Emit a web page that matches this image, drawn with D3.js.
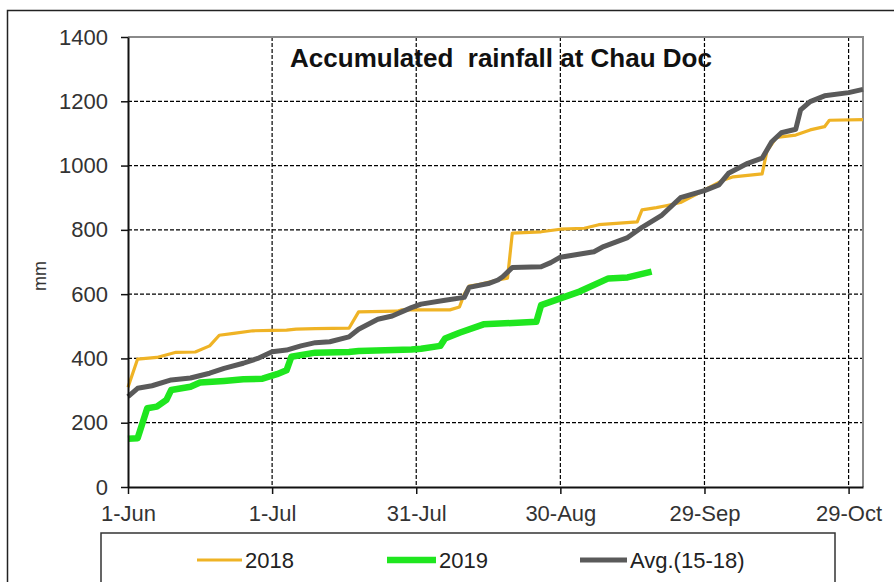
<!DOCTYPE html>
<html>
<head>
<meta charset="utf-8">
<script src="https://cdn.jsdelivr.net/npm/d3@7"></script>
<style>
  body { margin: 0; background: #fff; }
  svg { display: block; font-family: "Liberation Sans", Arial, sans-serif; }
</style>
</head>
<body>
<svg width="894" height="582"></svg>
<script>
// x tick days counted from 1 June, labels as printed
var tickDays = [0, 30, 60, 90, 120, 150];
var tickLabels = ["1-Jun", "1-Jul", "31-Jul", "30-Aug", "29-Sep", "29-Oct"];
var yTicks = [0, 200, 400, 600, 800, 1000, 1200, 1400];
var seriesNames = ["2018", "2019", "Avg.(15-18)"];

// accumulated rainfall (mm)
var days2018 = [0, 2, 6, 10, 14, 17, 19, 22, 26, 30, 33, 35, 39, 46, 48, 56, 57, 67, 69, 70, 71, 73, 77, 79, 80, 86, 90, 95, 98, 106, 107, 110, 112, 115, 120, 124, 126, 132, 133, 135, 139, 142, 145, 146, 153];
var rain2018 = [310, 398, 403, 419, 420, 439, 472, 478, 486, 487, 488, 491, 493, 494, 545, 547, 551, 551, 560, 600, 625, 630, 644, 650, 790, 794, 802, 805, 816, 825, 862, 869, 875, 885, 924, 955, 965, 974, 1045, 1088, 1095, 1111, 1121, 1141, 1143];

var days2019 = [0, 2, 4, 6, 8, 9, 13, 15, 20, 24, 28, 31, 33, 34, 39, 46, 48, 59, 61, 65, 66, 69, 74, 85, 86, 90, 94, 100, 104, 109];
var rain2019 = [150, 152, 245, 250, 271, 302, 312, 325, 330, 335, 337, 351, 363, 405, 418, 420, 423, 428, 430, 439, 462, 480, 506, 514, 566, 587, 608, 649, 652, 670];

var daysAvg = [0, 2, 5, 9, 13, 17, 20, 24, 27, 30, 33, 36, 39, 42, 46, 48, 52, 55, 59, 61, 66, 70, 71, 75, 77, 78, 80, 86, 88, 90, 97, 99, 104, 107, 111, 115, 120, 123, 125, 129, 132, 134, 136, 139, 140, 142, 145, 150, 153];
var rainAvg = [281, 307, 315, 333, 339, 354, 369, 385, 400, 421, 426, 439, 449, 452, 467, 491, 522, 532, 558, 569, 581, 590, 621, 633, 644, 654, 683, 685, 698, 715, 732, 748, 776, 808, 844, 900, 922, 940, 976, 1007, 1023, 1074, 1102, 1113, 1173, 1199, 1217, 1227, 1237];

var svg = d3.select("svg"),
    plotL = 128, plotR = 863, plotT = 37, plotB = 487;

var x = d3.scaleLinear().domain([0, 153]).range([plotL, plotR]);
var y = d3.scaleLinear().domain([0, 1400]).range([plotB, plotT]);

// outer frame of the figure
svg.append("rect")
    .attr("x", 7.5).attr("y", 10.5)
    .attr("width", 892).attr("height", 590)
    .attr("fill", "none").attr("stroke", "#222").attr("stroke-width", 1.5);

// dashed grid
svg.append("g").selectAll("line")
    .data(yTicks.slice(1, -1))
    .enter().append("line")
    .attr("x1", plotL).attr("x2", plotR)
    .attr("y1", function (d) { return y(d); })
    .attr("y2", function (d) { return y(d); })
    .attr("stroke", "#000").attr("stroke-width", 1.2)
    .attr("stroke-dasharray", "4,2");

svg.append("g").selectAll("line")
    .data(tickDays.slice(1))
    .enter().append("line")
    .attr("x1", function (d) { return x(d); })
    .attr("x2", function (d) { return x(d); })
    .attr("y1", plotT).attr("y2", plotB)
    .attr("stroke", "#000").attr("stroke-width", 1.2)
    .attr("stroke-dasharray", "4,2");

// grey top and right border of the plot
svg.append("path")
    .attr("d", "M" + plotL + "," + plotT + "H" + plotR + "V" + plotB)
    .attr("fill", "none").attr("stroke", "#8a8a8a").attr("stroke-width", 2);

// title
svg.append("text")
    .attr("x", 501).attr("y", 67)
    .attr("text-anchor", "middle")
    .attr("font-size", "26px").attr("font-weight", "bold")
    .attr("fill", "#111")
    .style("white-space", "pre")
    .text("Accumulated  rainfall at Chau Doc");

// lines
var line = d3.line()
    .x(function (d) { return x(d[0]); })
    .y(function (d) { return y(d[1]); });

var series = [
    { days: days2018, vals: rain2018, color: "#EFB325", width: 3.2 },
    { days: days2019, vals: rain2019, color: "#1FE61F", width: 6.5 },
    { days: daysAvg, vals: rainAvg, color: "#5a5a5a", width: 5 }
];

series.forEach(function (s) {
    svg.append("path")
        .datum(d3.zip(s.days, s.vals))
        .attr("d", line)
        .attr("fill", "none")
        .attr("stroke", s.color)
        .attr("stroke-width", s.width)
        .attr("stroke-linejoin", "round");
});

// axes
var yAxis = svg.append("g")
    .attr("transform", "translate(" + plotL + ",0)")
    .call(d3.axisLeft(y).tickValues(yTicks).tickSize(7).tickPadding(13).tickSizeOuter(0)
        .tickFormat(d3.format("d")));

var xAxis = svg.append("g")
    .attr("transform", "translate(0," + plotB + ")")
    .call(d3.axisBottom(x).tickValues(tickDays).tickSize(7).tickPadding(11).tickSizeOuter(0)
        .tickFormat(function (d, i) { return tickLabels[i]; }));

[yAxis, xAxis].forEach(function (a) {
    a.select(".domain").attr("stroke", "#111").attr("stroke-width", 2);
    a.selectAll(".tick line").attr("stroke", "#111").attr("stroke-width", 1.5);
    a.selectAll("text")
        .attr("font-size", "22px")
        .attr("fill", "#333")
        .attr("font-family", "Liberation Sans, Arial, sans-serif");
});

svg.append("text")
    .attr("transform", "translate(46,276) rotate(-90)")
    .attr("text-anchor", "middle")
    .attr("font-size", "18px")
    .attr("fill", "#333")
    .text("mm");

// legend box
svg.append("rect")
    .attr("x", 101).attr("y", 533)
    .attr("width", 734).attr("height", 80)
    .attr("fill", "#fff").attr("stroke", "#333").attr("stroke-width", 1.5);

var legendX = [197, 387, 580],
    legendLen = [45, 49, 47];

var legend = svg.append("g").selectAll("g")
    .data(seriesNames)
    .enter().append("g")
    .attr("transform", function (d, i) { return "translate(" + legendX[i] + ",560)"; });

legend.append("line")
    .attr("x1", 0)
    .attr("x2", function (d, i) { return legendLen[i]; })
    .attr("stroke", function (d, i) { return series[i].color; })
    .attr("stroke-width", function (d, i) { return series[i].width; });

legend.append("text")
    .attr("x", function (d, i) { return legendLen[i] + 3; })
    .attr("dy", "0.36em")
    .attr("font-size", "22px")
    .attr("fill", "#222")
    .text(function (d) { return d; });
</script>
</body>
</html>
